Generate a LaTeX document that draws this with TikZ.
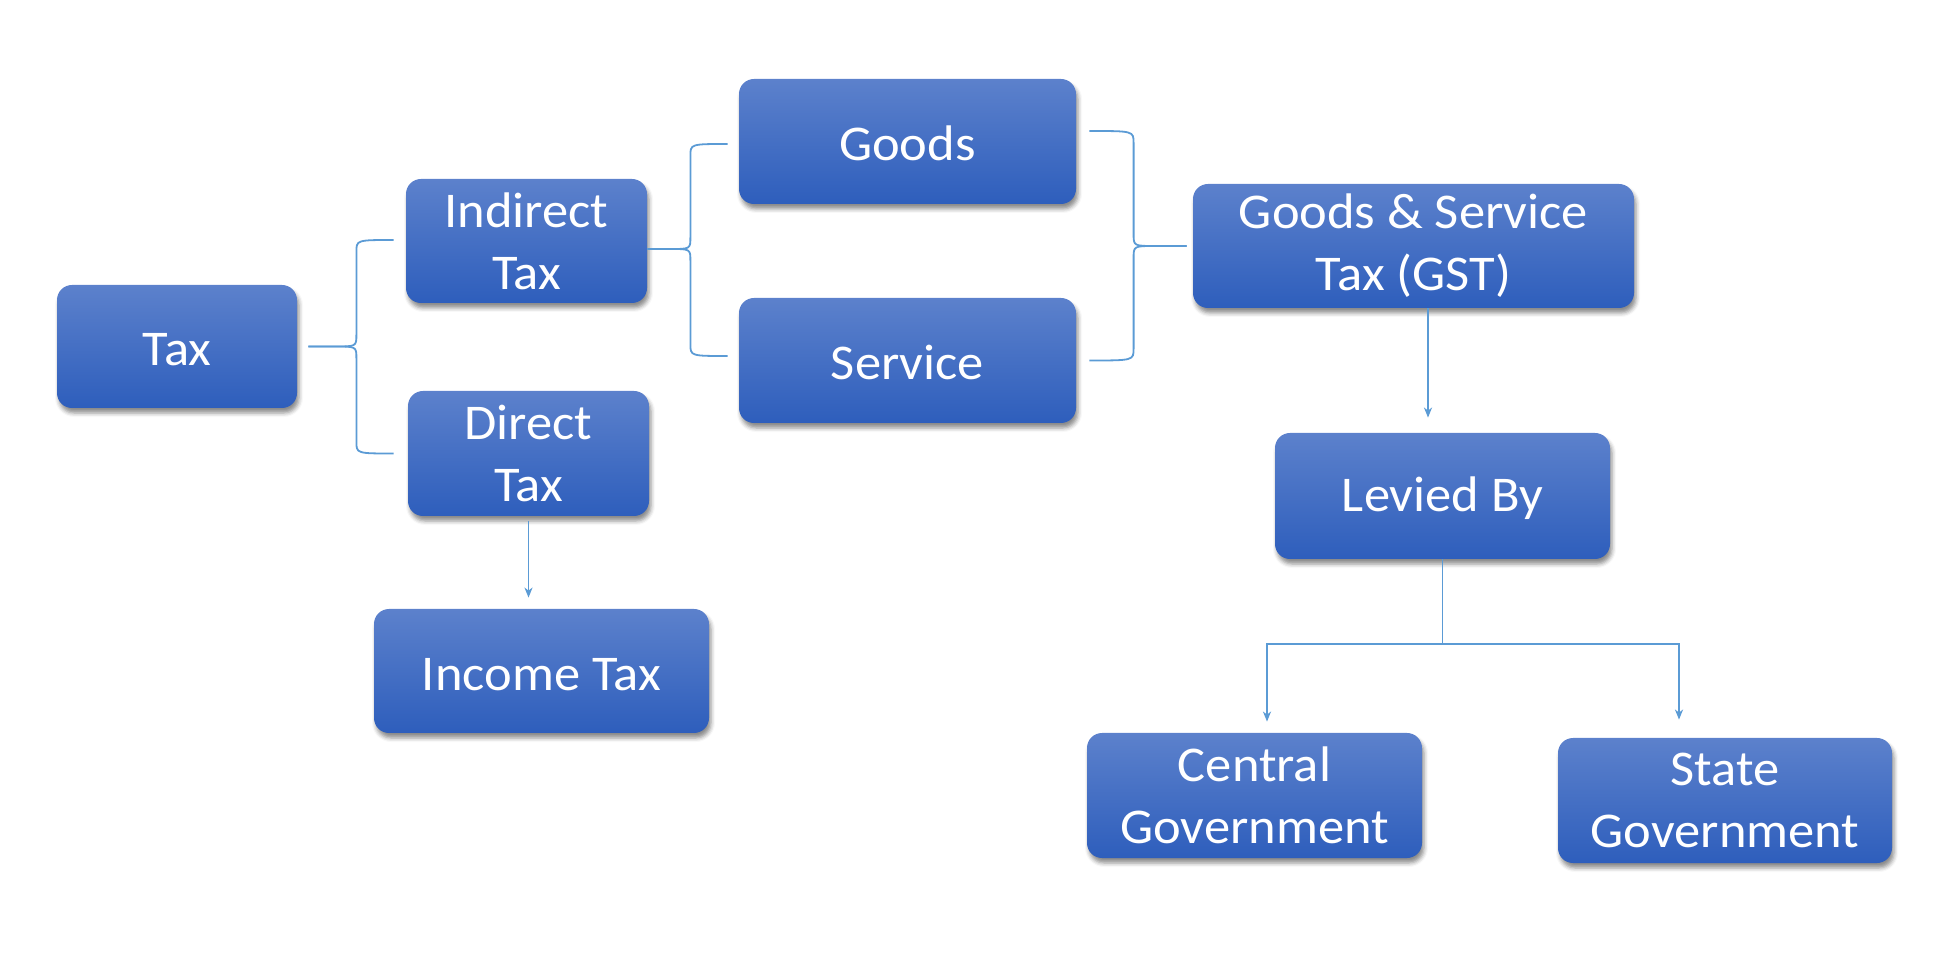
\documentclass[tikz,border=0pt]{standalone}
\usepackage{fontspec}
\setmainfont{Carlito}[FakeStretch=1.05]
\usetikzlibrary{arrows.meta,calc,shadows.blur}
\definecolor{boxtop}{RGB}{92,129,204}
\definecolor{boxbot}{RGB}{46,94,188}
\definecolor{linkblue}{RGB}{91,155,213}
\tikzset{
  taxbox/.style={rounded corners=7.5pt, top color=boxtop, bottom color=boxbot, draw=none,
    text=white, font=\fontsize{25}{31}\selectfont, align=center, inner sep=0pt,
    execute at begin node={\rule{0pt}{19.5pt}},
    blur shadow={shadow xshift=1pt, shadow yshift=-2.5pt, shadow blur radius=2pt, shadow opacity=45}},
  brace/.style={draw=linkblue, line width=0.9pt},
  link/.style={brace, -{Stealth[length=5pt,width=4pt,inset=1.5pt]}},
}
\begin{document}
\begin{tikzpicture}[x=0.5pt,y=0.5pt,yscale=-1]
	\useasboundingbox (0,0) rectangle (1934,972);

	%Shape: Rounded Rect
	\node [taxbox, minimum width=120pt, minimum height=61.5pt] (tax) at (177,346.5) {Tax};
	\node [taxbox, minimum width=120.5pt, minimum height=62pt] (indirect) at (526.5,241) {Indirect\\Tax};
	\node [taxbox, minimum width=120.5pt, minimum height=62.5pt] (direct) at (528.5,453.5) {Direct\\Tax};
	\node [taxbox, minimum width=167.5pt, minimum height=62pt] (income) at (541.5,671) {Income Tax};
	\node [taxbox, minimum width=168.5pt, minimum height=62.5pt] (goods) at (907.5,141.5) {Goods};
	\node [taxbox, minimum width=168.5pt, minimum height=62.5pt] (service) at (907.5,360.5) {Service};
	\node [taxbox, minimum width=220.5pt, minimum height=62pt] (gst) at (1413.5,246) {Goods \& Service\\Tax (GST)};
	\node [taxbox, minimum width=167.5pt, minimum height=63pt] (levied) at (1442.5,496) {Levied By};
	\node [taxbox, minimum width=167.5pt, minimum height=62.5pt] (central) at (1254.5,795.5) {Central\\Government};
	\node [taxbox, minimum width=167pt, minimum height=62.5pt] (state) at (1725,800.5) {State\\Government};

	%Shape: Brace
	\coordinate (taxtip) at ($(tax.east)+(11,0)$);
	\coordinate (taxspine) at ($(taxtip)+(48,0)$);
	\coordinate (indarm) at ($(indirect.west)+(-12,-1)$);
	\coordinate (dirarm) at ($(direct.west)+(-14,0)$);
	\draw [brace] (indarm) .. controls (indarm -| taxspine) .. ($(indarm -| taxspine)+(0,12)$) -- ($(taxspine)+(0,-12)$) .. controls (taxspine) .. ($(taxspine)+(-22,0)$) -- (taxtip);
	\draw [brace] (taxtip) -- ($(taxspine)+(-22,0)$) .. controls (taxspine) .. ($(taxspine)+(0,12)$) -- ($(dirarm -| taxspine)+(0,-12)$) .. controls (dirarm -| taxspine) .. (dirarm);

	%Shape: Brace
	\coordinate (indtip) at ($(indirect.east)+(0,8)$);
	\coordinate (indspine) at ($(indtip)+(43,0)$);
	\coordinate (goodsarm) at ($(goods.west)+(-11,2.5)$);
	\coordinate (servarm) at ($(service.west)+(-11,-4.5)$);
	\draw [brace] (goodsarm) .. controls (goodsarm -| indspine) .. ($(goodsarm -| indspine)+(0,12)$) -- ($(indspine)+(0,-12)$) .. controls (indspine) .. ($(indspine)+(-20,0)$) -- (indtip);
	\draw [brace] (indtip) -- ($(indspine)+(-20,0)$) .. controls (indspine) .. ($(indspine)+(0,12)$) -- ($(servarm -| indspine)+(0,-12)$) .. controls (servarm -| indspine) .. (servarm);

	%Shape: Brace
	\coordinate (gsttip) at ($(gst.west)+(-6,0)$);
	\coordinate (gstspine) at ($(gsttip)+(-53,0)$);
	\coordinate (goodsend) at ($(goods.east)+(13,-10.5)$);
	\coordinate (servend) at ($(service.east)+(13,0)$);
	\draw [brace] (goodsend) .. controls (goodsend -| gstspine) .. ($(goodsend -| gstspine)+(0,12)$) -- ($(gstspine)+(0,-12)$) .. controls (gstspine) .. ($(gstspine)+(22,0)$) -- (gsttip);
	\draw [brace] (gsttip) -- ($(gstspine)+(22,0)$) .. controls (gstspine) .. ($(gstspine)+(0,12)$) -- ($(servend -| gstspine)+(0,-12)$) .. controls (servend -| gstspine) .. (servend);

	%Straight Lines
	\draw [link, shorten <=2.5pt, shorten >=5.5pt] (direct.south) -- (direct.south |- income.north);
	\coordinate (gstout) at ($(gst.south)+(14.5,0)$);
	\draw [link, shorten >=7.5pt] (gstout) -- (gstout |- levied.north);
	\coordinate (split) at ($(levied.south)+(0,85)$);
	\coordinate (cgin) at ($(central.north)+(12.5,-11)$);
	\coordinate (sgin) at ($(state.north)+(-46,-18)$);
	\draw [brace] (levied.south) -- (split);
	\draw [link] (split) -| (cgin);
	\draw [link] (split) -| (sgin);

\end{tikzpicture}
\end{document}
